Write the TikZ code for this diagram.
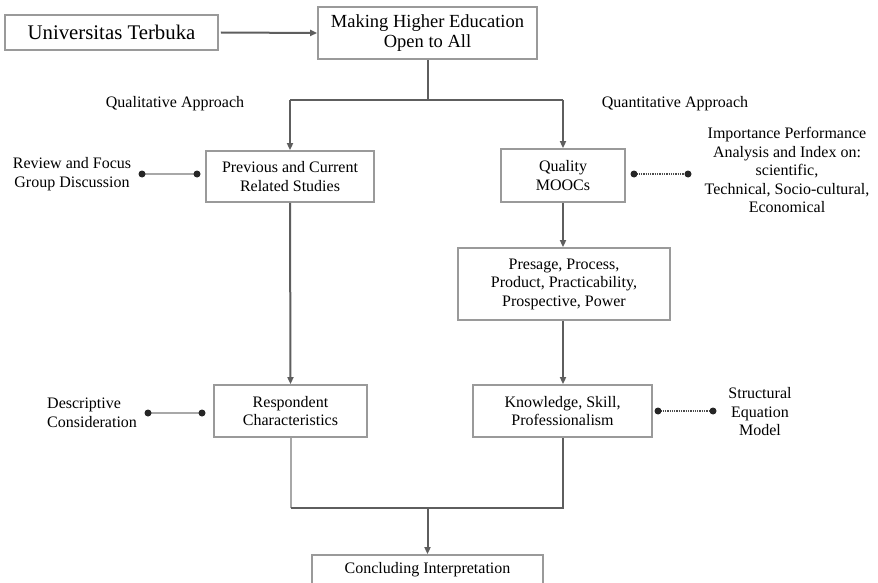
\documentclass[tikz,border=0pt]{standalone}
\usepackage{fontspec}
\setmainfont{Liberation Serif}
\usetikzlibrary{arrows.meta}
\definecolor{boxgray}{HTML}{9A9A9A}
\definecolor{linegray}{HTML}{5E5E5E}
\definecolor{lightline}{HTML}{A8A8A8}
\begin{document}
\begin{tikzpicture}[x=1pt,y=-1pt,
  box/.style={draw=boxgray,line width=1.8pt,fill=white,inner sep=0pt,align=center,
    font=\fontsize{16}{18.5}\selectfont},
  lbl/.style={inner sep=0pt,align=center,font=\fontsize{16}{18.5}\selectfont},
  conn/.style={draw=linegray,line width=2pt},
  arr/.style={conn,-{Triangle[length=7pt,width=6pt]}},
  dotpt/.style={circle,fill=black!85,inner sep=0pt,minimum size=7pt},
  solidlink/.style={draw=lightline,line width=1.6pt},
  dottedlink/.style={draw=black!70,line width=1.3pt,dash pattern=on 1.3pt off 1pt}
]
\useasboundingbox (0,0) rectangle (878,583);
\clip (0,0) rectangle (878,583);
\fill[white] (0,0) rectangle (878,583);

% boxes
\node[box,minimum width=213pt,minimum height=35pt,font=\fontsize{20.8}{24}\selectfont] (uni) at (111.5,32.5) {Universitas Terbuka};
\node[box,minimum width=219pt,minimum height=52pt,font=\fontsize{18.5}{20}\selectfont] (open) at (427.5,33) {Making Higher Education\\Open to All};
\node[box,minimum width=168pt,minimum height=51pt] (prev) at (290,176.5) {Previous and Current\\Related Studies};
\node[box,minimum width=124pt,minimum height=53pt] (qual) at (563,175.5) {Quality\\MOOCs};
\node[box,minimum width=212pt,minimum height=72pt] (pres) at (564,284) {Presage, Process,\\Product, Practicability,\\Prospective, Power};
\node[box,minimum width=179pt,minimum height=52pt] (know) at (562.5,411) {Knowledge, Skill,\\Professionalism};
\node[box,minimum width=153pt,minimum height=52pt] (resp) at (290.5,411) {Respondent\\Characteristics};
\node[box,minimum width=231pt,minimum height=30pt] (concl) at (427.5,570) {Concluding Interpretation};

% labels
\node[lbl] (qualap) at (175,104) {Qualitative Approach};
\node[lbl] (quantap) at (675,104) {Quantitative Approach};
\node[lbl] (review) at (72,174) {Review and Focus\\Group Discussion};
\node[lbl] (ipa) at (787,170) {Importance Performance\\Analysis and Index on:\\scientific,\\Technical, Socio-cultural,\\Economical};
\node[lbl,anchor=west,align=left] (desc) at (47,413) {Descriptive\\Consideration};
\node[lbl] (sem) at (760,412) {Structural\\Equation\\Model};

% main flow
\draw[arr] (uni.east) ++(2,0) coordinate (uniE) -- (open.west);
\coordinate (split) at (427.5,100);
\coordinate (splitL) at (290,100);
\coordinate (splitR) at (563,100);
\draw[conn] (open.south) -- (split);
\draw[conn] (splitL) -- (splitR);
\draw[arr] (splitL) -- (prev.north);
\draw[arr] (splitR) -- (qual.north);
\draw[arr] (prev.south) -- (resp.north);
\draw[arr] (qual.south -| 563,0) -- (pres.north -| 563,0);
\draw[arr] (pres.south -| 563,0) -- (know.north -| 563,0);
\coordinate (joinL) at (290.5,508);
\coordinate (joinR) at (562.5,508);
\coordinate (joinM) at (427.5,508);
\draw[draw=lightline,line width=2pt] (resp.south) -- (joinL);
\draw[conn] (joinL) -- (joinR) -- (know.south);
\draw[arr] (joinM) -- (concl.north);

% side links
\coordinate (r1) at (142,174); \coordinate (r2) at (197,174);
\draw[solidlink] (r1) -- (r2);
\node[dotpt] at (r1) {}; \node[dotpt] at (r2) {};
\coordinate (d1) at (148,413); \coordinate (d2) at (202,413);
\draw[solidlink] (d1) -- (d2);
\node[dotpt] at (d1) {}; \node[dotpt] at (d2) {};
\coordinate (q1) at (634,174); \coordinate (q2) at (688,174);
\draw[dottedlink] (q1) -- (q2);
\node[dotpt] at (q1) {}; \node[dotpt] at (q2) {};
\coordinate (k1) at (658,411); \coordinate (k2) at (713,411);
\draw[dottedlink] (k1) -- (k2);
\node[dotpt] at (k1) {}; \node[dotpt] at (k2) {};
\end{tikzpicture}
\end{document}
